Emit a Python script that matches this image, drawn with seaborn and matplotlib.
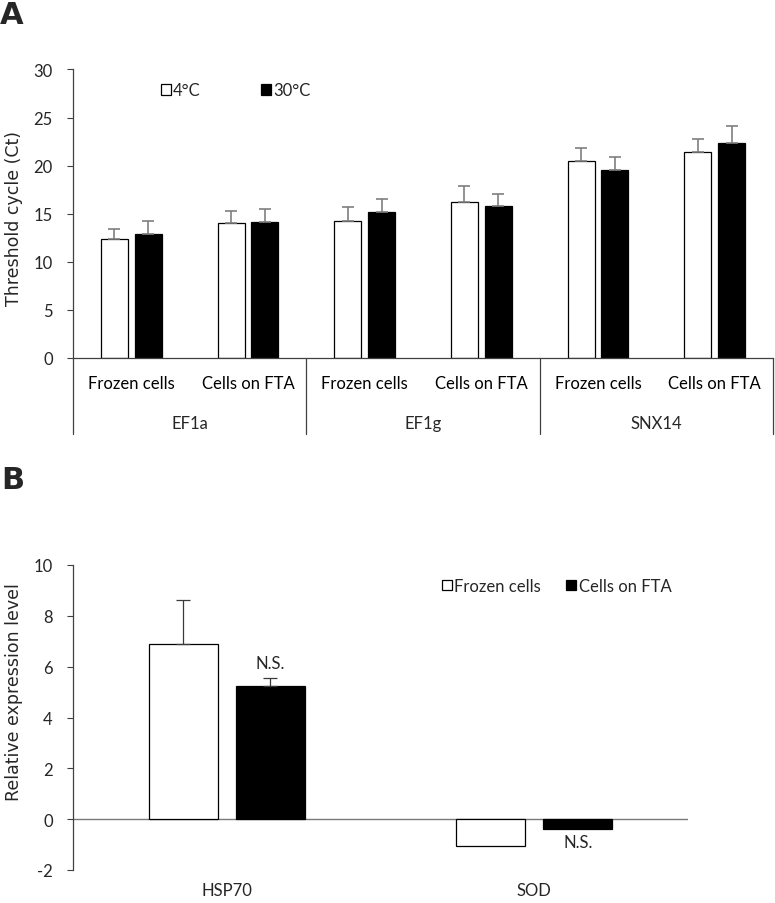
import matplotlib
matplotlib.use("Agg")
import matplotlib.pyplot as plt
from matplotlib.patches import Patch
import seaborn as sns
import pandas as pd
import numpy as np

# ---------------- data ----------------
genes = ["EF1a", "EF1g", "SNX14"]
storage = ["Frozen cells", "Cells on FTA"]
temps = ["4°C", "30°C"]
ct_4c = [12.4, 14.05, 14.2, 16.25, 20.45, 21.45]
ct_30c = [12.85, 14.15, 15.15, 15.85, 19.55, 22.35]
ct_4c_err = [1.0, 1.2, 1.45, 1.6, 1.35, 1.3]
ct_30c_err = [1.4, 1.35, 1.35, 1.2, 1.3, 1.75]

targets = ["HSP70", "SOD"]
groups = ["Frozen cells", "Cells on FTA"]
rel_frozen = [6.88, -1.04]
rel_fta = [5.25, -0.39]
rel_frozen_err = [1.73, 0.0]
rel_fta_err = [0.29, 0.0]
ns_labels = ["N.S.", "N.S."]

# ---------------- style ----------------
sns.set_theme(style="white")
plt.rcParams["font.family"] = ["Lato", "DejaVu Sans"]
plt.rcParams["axes.unicode_minus"] = False
TICK_FS = 12
AXIS_COL = "#404040"
ERR_COL = "#7f7f7f"

fig = plt.figure(figsize=(7.75, 9.04), dpi=100)
axA = fig.add_axes([73 / 775, 1 - 359 / 904, 700 / 775, 288.6 / 904])
axB = fig.add_axes([73 / 775, 1 - 871 / 904, 615 / 775, 305 / 904])

# ---------------- panel A ----------------
conds = [f"{g}|{s}" for g in genes for s in storage]
dfA = pd.DataFrame({
    "cond": conds * 2,
    "temp": [temps[0]] * len(conds) + [temps[1]] * len(conds),
    "ct": ct_4c + ct_30c,
})
sns.barplot(data=dfA, x="cond", y="ct", hue="temp", order=conds, hue_order=temps,
            palette=["white", "black"], edgecolor="black", linewidth=0.9,
            width=0.58, gap=0.2, errorbar=None, legend=False, ax=axA)
for cont, errs in zip(axA.containers, [ct_4c_err, ct_30c_err]):
    xs = [b.get_x() + b.get_width() / 2 for b in cont.patches]
    ys = [b.get_height() for b in cont.patches]
    axA.errorbar(xs, ys, yerr=[np.zeros(len(errs)), errs], fmt="none",
                 ecolor=ERR_COL, elinewidth=1.2, capsize=4.5, capthick=1.2, zorder=1)

axA.set_xlim(-0.5, len(conds) - 0.5)
axA.set_ylim(0, 30)
axA.set_yticks(range(0, 31, 5))
axA.set_xticks(range(len(conds)))
axA.set_xticklabels([c.split("|")[1] for c in conds])
axA.tick_params(axis="x", length=0, pad=12, labelsize=TICK_FS, colors="black")
axA.tick_params(axis="y", left=True, length=4.5, width=0.8, color=AXIS_COL,
                direction="out", pad=10, labelsize=TICK_FS)
axA.set_xlabel("")
axA.set_ylabel("Threshold cycle (Ct)", fontsize=12.5, family="DejaVu Sans")
axA.yaxis.set_label_coords(-0.072, 0.487)
for sp in ["top", "right"]:
    axA.spines[sp].set_visible(False)
for sp in ["left", "bottom"]:
    axA.spines[sp].set_color(AXIS_COL)
    axA.spines[sp].set_linewidth(0.9)

# group separators and gene labels
trans = axA.get_xaxis_transform()
for k in range(len(genes) + 1):
    xpos = k * len(storage) - 0.5
    axA.plot([xpos, xpos], [0, -0.263], color=AXIS_COL, lw=0.9,
             transform=trans, clip_on=False)
for k, g in enumerate(genes):
    axA.text(k * len(storage) + 0.5, -0.225, g, transform=trans, ha="center",
             va="center", fontsize=TICK_FS)

axA.legend(handles=[Patch(facecolor="white", edgecolor="black", lw=0.9),
                    Patch(facecolor="black", edgecolor="black", lw=0.9)],
           labels=temps, loc="center left", bbox_to_anchor=(0.125, 0.927),
           ncol=2, frameon=False, fontsize=TICK_FS, handlelength=0.6,
           handleheight=0.6, handletextpad=0.15, columnspacing=3.6,
           borderpad=0, borderaxespad=0)

# ---------------- panel B ----------------
dfB = pd.DataFrame({
    "target": targets * 2,
    "group": [groups[0]] * len(targets) + [groups[1]] * len(targets),
    "rel": rel_frozen + rel_fta,
})
sns.barplot(data=dfB, x="target", y="rel", hue="group", order=targets, hue_order=groups,
            palette=["white", "black"], edgecolor="black", linewidth=0.9,
            width=0.566, gap=0.207, errorbar=None, legend=False, ax=axB)
axB.axhline(0, color="#7a7a7a", lw=1.0, zorder=0.5)
for cont, errs in zip(axB.containers, [rel_frozen_err, rel_fta_err]):
    for b, e in zip(cont.patches, errs):
        if e > 0:
            axB.errorbar(b.get_x() + b.get_width() / 2, b.get_height(),
                         yerr=[[0], [e]], fmt="none", ecolor="#3a3a3a",
                         elinewidth=0.9, capsize=5, capthick=0.9, zorder=1)
# N.S. annotations on the Cells-on-FTA bars
for b, e, lab in zip(axB.containers[1].patches, rel_fta_err, ns_labels):
    h = b.get_height()
    xc = b.get_x() + b.get_width() / 2
    if h >= 0:
        axB.text(xc, h + e + 0.3, lab, ha="center", va="bottom", fontsize=TICK_FS)
    else:
        axB.text(xc, h - 0.2, lab, ha="center", va="top", fontsize=TICK_FS)

axB.set_xlim(-0.5, len(targets) - 0.5)
axB.set_ylim(-2, 10)
axB.set_yticks(range(-2, 11, 2))
axB.tick_params(axis="x", length=0, pad=9, labelsize=TICK_FS)
axB.tick_params(axis="y", left=True, length=4.5, width=0.8, color=AXIS_COL,
                direction="out", pad=10, labelsize=TICK_FS)
axB.set_xlabel("")
axB.set_ylabel("Relative expression level", fontsize=12.5, family="DejaVu Sans")
axB.yaxis.set_label_coords(-0.081, 0.587)
for sp in ["top", "right", "bottom"]:
    axB.spines[sp].set_visible(False)
axB.spines["left"].set_color(AXIS_COL)
axB.spines["left"].set_linewidth(0.9)

axB.legend(handles=[Patch(facecolor="white", edgecolor="black", lw=0.9),
                    Patch(facecolor="black", edgecolor="black", lw=0.9)],
           labels=groups, loc="center left", bbox_to_anchor=(0.6, 0.931),
           ncol=2, frameon=False, fontsize=TICK_FS, handlelength=0.6,
           handleheight=0.6, handletextpad=0.15, columnspacing=1.5,
           borderpad=0, borderaxespad=0)

# panel letters
fig.text(0.0, 1 - 1 / 904, "A", ha="left", va="top", fontsize=22,
         fontweight="bold", family="DejaVu Sans")
fig.text(0.002, 1 - 466 / 904, "B", ha="left", va="top", fontsize=22,
         fontweight="bold", family="DejaVu Sans")

fig.savefig("out.png", dpi=100)
